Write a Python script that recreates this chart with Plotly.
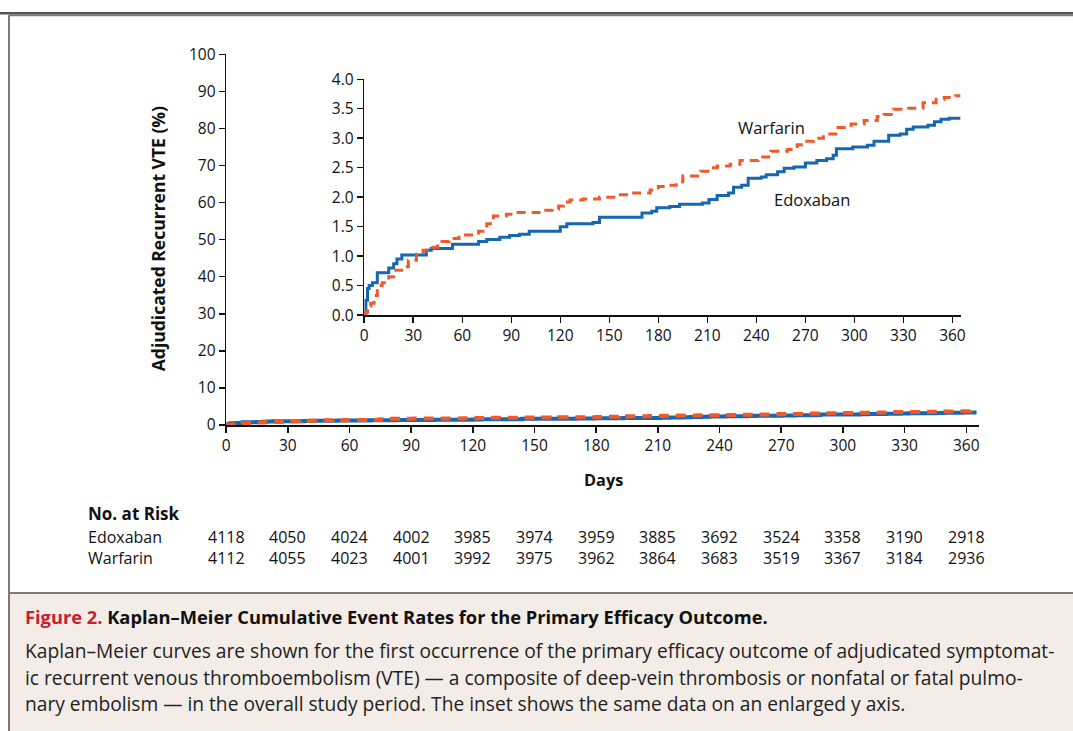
import plotly.graph_objects as go

W, H = 1073, 731

# ---------------- data ----------------
edox_days = [0, 1, 2, 3, 5, 8, 15, 18, 20, 23, 38, 41, 54, 70, 75, 83, 89, 95, 101, 120,
             124, 140, 144, 170, 176, 179, 187, 193, 207, 211, 216, 223, 226, 231, 235,
             243, 246, 253, 257, 263, 270, 277, 283, 287, 289, 299, 308, 312, 321, 328,
             332, 336, 345, 349, 353, 358, 365]
edox_pct = [0, 0.25, 0.45, 0.5, 0.55, 0.72, 0.8, 0.87, 0.95, 1.02, 1.1, 1.13, 1.2, 1.25,
            1.28, 1.32, 1.35, 1.37, 1.42, 1.5, 1.55, 1.57, 1.66, 1.73, 1.76, 1.82, 1.84,
            1.88, 1.9, 1.96, 2.03, 2.07, 2.17, 2.2, 2.32, 2.34, 2.38, 2.43, 2.49, 2.51,
            2.58, 2.62, 2.65, 2.71, 2.82, 2.85, 2.88, 2.95, 3.05, 3.07, 3.15, 3.19, 3.22,
            3.28, 3.32, 3.34, 3.34]

warf_days = [0, 1, 2, 4, 6, 8, 11, 15, 18, 23, 27, 32, 36, 40, 45, 52, 58, 70, 75, 79,
             87, 91, 107, 115, 119, 122, 126, 134, 144, 154, 162, 175, 180, 184, 191, 195,
             206, 212, 216, 224, 230, 241, 249, 259, 265, 269, 275, 281, 290, 298, 306,
             314, 318, 324, 330, 342, 350, 355, 362, 365]
warf_pct = [0, 0.05, 0.15, 0.2, 0.33, 0.5, 0.55, 0.65, 0.76, 0.82, 0.93, 1.03, 1.1, 1.15,
            1.25, 1.3, 1.36, 1.42, 1.55, 1.68, 1.71, 1.74, 1.78, 1.8, 1.85, 1.92, 1.95,
            1.97, 2.0, 2.04, 2.07, 2.12, 2.18, 2.2, 2.26, 2.36, 2.44, 2.5, 2.53, 2.56,
            2.62, 2.68, 2.78, 2.81, 2.89, 2.95, 3.0, 3.07, 3.18, 3.24, 3.3, 3.37, 3.4,
            3.49, 3.51, 3.6, 3.66, 3.69, 3.72, 3.72]

x_ticks = list(range(0, 361, 30))
main_y_ticks = list(range(0, 101, 10))
inset_y_ticks = [0, 0.5, 1.0, 1.5, 2.0, 2.5, 3.0, 3.5, 4.0]

risk_days = list(range(0, 361, 30))
risk_edox = [4118, 4050, 4024, 4002, 3985, 3974, 3959, 3885, 3692, 3524, 3358, 3190, 2918]
risk_warf = [4112, 4055, 4023, 4001, 3992, 3975, 3962, 3864, 3683, 3519, 3367, 3184, 2936]

series_names = ["Edoxaban", "Warfarin"]

caption_title = "Kaplan\u2013Meier Cumulative Event Rates for the Primary Efficacy Outcome."
caption_lines = [
    "Kaplan\u2013Meier curves are shown for the first occurrence of the primary efficacy outcome of adjudicated symptomat-",
    "ic recurrent venous thromboembolism (VTE) \u2014 a composite of deep-vein thrombosis or nonfatal or fatal pulmo-",
    "nary embolism \u2014 in the overall study period. The inset shows the same data on an enlarged y axis.",
]

# ---------------- styling ----------------
BLUE = "#1767b0"
ORANGE = "#f05a2a"
FONT = "Open Sans"
TXT = "#111"

# correction for how the page ends up in the photograph
X_OFF, X_SC = 4.0, 0.991
Y_OFF, Y_SC = 10.7, 0.9706


def px(x):
    return ((x - X_OFF) / X_SC) / W


def py(y):
    return 1 - ((y - Y_OFF) / Y_SC) / H


fig = go.Figure()

# main panel
fig.add_trace(go.Scatter(x=edox_days, y=edox_pct, mode="lines", line_shape="hv",
                         line=dict(color=BLUE, width=4), xaxis="x", yaxis="y",
                         showlegend=False, name=series_names[0]))
fig.add_trace(go.Scatter(x=warf_days, y=warf_pct, mode="lines", line_shape="hv",
                         line=dict(color=ORANGE, width=4, dash="10px,7px"), xaxis="x", yaxis="y",
                         showlegend=False, name=series_names[1]))
# inset
fig.add_trace(go.Scatter(x=edox_days, y=edox_pct, mode="lines", line_shape="hv",
                         line=dict(color=BLUE, width=3), xaxis="x2", yaxis="y2",
                         showlegend=False, name=series_names[0]))
fig.add_trace(go.Scatter(x=warf_days, y=warf_pct, mode="lines", line_shape="hv",
                         line=dict(color=ORANGE, width=3, dash="9px,6px"), xaxis="x2", yaxis="y2",
                         showlegend=False, name=series_names[1]))

axis_common = dict(showline=True, linecolor=TXT, linewidth=1.5, ticks="outside",
                   ticklen=6, tickwidth=1.5, tickcolor=TXT, showgrid=False,
                   zeroline=False, fixedrange=True)

fig.update_layout(
    autosize=True,
    margin=dict(l=0, r=0, t=0, b=0),
    paper_bgcolor="white", plot_bgcolor="rgba(0,0,0,0)",
    font=dict(family=FONT, color=TXT, size=15),
    xaxis=dict(domain=[px(226), px(978)], range=[0, 366], tickvals=x_ticks,
               tickfont=dict(size=15.5), anchor="y", **axis_common),
    yaxis=dict(domain=[py(424), py(53)], range=[0, 100], tickvals=main_y_ticks,
               tickfont=dict(size=15.5), anchor="x", **axis_common),
    xaxis2=dict(domain=[px(364), px(960)], range=[0, 365], tickvals=x_ticks,
                tickfont=dict(size=15.5), anchor="y2", **axis_common),
    yaxis2=dict(domain=[py(314), py(78)], range=[0, 4], tickvals=inset_y_ticks,
                tickformat=".1f", tickfont=dict(size=15.5), anchor="x2", **axis_common),
)

top_rule = 1 - 1.4 / H  # as high as the page allows
shapes = [
    dict(type="line", xref="paper", yref="paper", x0=-0.01, x1=1.01, y0=top_rule, y1=top_rule,
         line=dict(color="#555", width=2.5)),
    dict(type="rect", xref="paper", yref="paper", x0=px(10), x1=1.01, y0=-0.05, y1=py(592),
         fillcolor="#f3ece7", line=dict(width=0), layer="below"),
    dict(type="line", xref="paper", yref="paper", x0=px(9), x1=1.01, y0=py(14), y1=py(14),
         line=dict(color="#7a7a7a", width=2)),
    dict(type="line", xref="paper", yref="paper", x0=px(9), x1=px(9), y0=-0.05, y1=py(14),
         line=dict(color="#7a7a7a", width=2)),
    dict(type="line", xref="paper", yref="paper", x0=px(9), x1=1.01, y0=py(592), y1=py(592),
         line=dict(color="#7a7a7a", width=2)),
]
fig.update_layout(shapes=shapes)


def note(text, x, y, size, xanchor="center", color=TXT, angle=0, xref="paper"):
    return dict(text=text, x=x, y=y, xref=xref, yref="paper", xanchor=xanchor,
                yanchor="middle", textangle=angle, showarrow=False,
                font=dict(size=size, color=color))


ann = []
ann.append(note("<b>Adjudicated Recurrent VTE (%)</b>", px(158), py(238), 17.5, angle=-90))
ann.append(note("<b>Days</b>", px(603), py(479), 16.3))
ann.append(note(series_names[1], px(771), py(126), 16.5))
ann.append(note(series_names[0], px(812), py(198), 16.5))
ann.append(note("<b>No. at Risk</b>", px(86), py(513), 17, xanchor="left"))
ann.append(note(series_names[0], px(86), py(536), 16, xanchor="left"))
ann.append(note(series_names[1], px(86), py(557), 16, xanchor="left"))
for d, e, w in zip(risk_days, risk_edox, risk_warf):
    ann.append(note(str(e), d, py(536), 16, xref="x"))
    ann.append(note(str(w), d, py(557), 16, xref="x"))
ann.append(note("<b><span style='color:#c8202e'>Figure 2.</span> " + caption_title + "</b>",
                px(23), py(616), 18.3, xanchor="left"))
for i, line in enumerate(caption_lines):
    ann.append(note(line, px(23), py(650 + 26.5 * i), 19.2, xanchor="left", color="#222"))

fig.update_layout(annotations=ann)

# the graph div is pinned to the window's top-left corner at exactly W x H
fig.write_html(
    "out.html",
    config={"displayModeBar": False, "staticPlot": True},
    default_width=f"{W}px",
    default_height=f"{H}px; position:fixed; top:0px; left:0px",
)
